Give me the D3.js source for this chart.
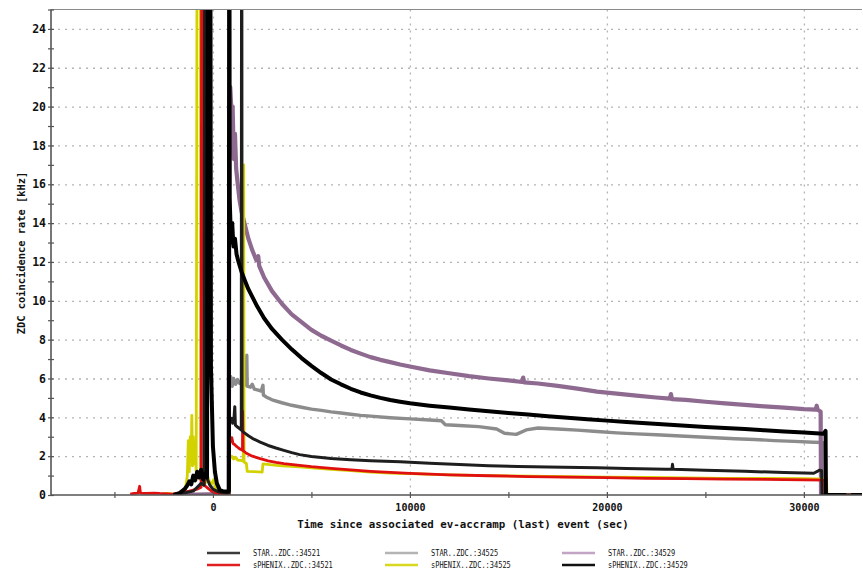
<!DOCTYPE html>
<html>
<head>
<meta charset="utf-8">
<script src="https://cdn.jsdelivr.net/npm/d3@7"></script>
<style>
  body { margin: 0; background: #fff; }
  svg { display: block; }
  text { font-family: "DejaVu Sans Mono", "Liberation Mono", monospace; fill: #111; }
</style>
</head>
<body>
<svg id="chart" width="863" height="584"></svg>
<script>
// ZDC coincidence rates for three fills, time relative to the ev-accramp event (s, kHz)
const seriesNames = [
  "STAR..ZDC.:34521", "sPHENIX..ZDC.:34521",
  "STAR..ZDC.:34525", "sPHENIX..ZDC.:34525",
  "STAR..ZDC.:34529", "sPHENIX..ZDC.:34529"
];
const seriesColors = ["#1e1e1e", "#e01010", "#8c8c8c", "#d2d200", "#8e6a90", "#000000"];
const legendColors = ["#3a3a3a", "#e02020", "#b4b4b4", "#d8d820", "#c4a4c4", "#111111"];

const xTickLabels = [0, 10000, 20000, 30000];
const xMinorTicks = [-5000, 0, 5000, 10000, 15000, 20000, 25000, 30000];
const yTickLabels = [0, 2, 4, 6, 8, 10, 12, 14, 16, 18, 20, 22, 24];
const yMinorTicks = d3.range(0, 26);

const star34521 = [[-2000,0],[-1000,0.2],[-800,0.4],[-600,0.6],[-450,0.5],[-400,45],[-320,45],[-280,0.8],[-150,0.5],[0,0.3],[300,0.15],[700,0.1],[820,0.1],
  [840,4.0],[900,3.85],[960,3.95],[1000,3.7],[1060,3.8],[1110,4.55],[1140,3.6],[1250,3.5],[1380,3.4],[1440,3.35],[1460,45],[1480,3.3],[1600,3.2],[1800,3.05],
  [2000,2.92],[2400,2.72],[2800,2.55],[3200,2.42],[3600,2.3],[4000,2.18],[4400,2.08],[5000,1.98],[6000,1.88],[7000,1.82],[8000,1.77],[9500,1.71],[11000,1.64],
  [12500,1.57],[14000,1.51],[15500,1.47],[17000,1.44],[19500,1.4],[21000,1.37],[23000,1.33],[23300,1.32],[23330,1.58],[23360,1.33],[25000,1.28],[27000,1.22],
  [29000,1.16],[30500,1.12],[30800,1.28],[30900,1.25],[30920,0],[32950,0]];

const sphenix34521 = [[-4200,0.05],[-4000,0.08],[-3800,0.1],[-3720,0.45],[-3680,0.1],[-3400,0.08],[-3000,0.1],[-2700,0.08],[-2000,0.05],[-1200,0.2],[-800,0.3],
  [-600,0.4],[-560,45],[-470,45],[-440,0.5],[-200,0.3],[0,0.15],[400,0.05],[820,0.05],
  [840,3.0],[900,2.75],[960,2.95],[1020,2.65],[1100,2.6],[1200,2.5],[1300,2.42],[1400,2.35],[1500,2.3],[1510,4.3],[1530,2.28],[1700,2.15],[2000,2.0],[2400,1.87],
  [2800,1.76],[3200,1.68],[3600,1.62],[4400,1.53],[5000,1.46],[6000,1.37],[7000,1.29],[8000,1.22],[9000,1.16],[10000,1.11],[12000,1.04],[14000,0.99],[16000,0.95],
  [18000,0.92],[20000,0.89],[22000,0.86],[24000,0.84],[26000,0.82],[28000,0.8],[30000,0.78],[31050,0.77],[31070,0],[32950,0]];

const star34525 = [[-2000,0],[800,0.05],[840,5.9],[900,6.1],[980,5.6],[1050,6.0],[1150,5.7],[1250,5.95],[1350,5.75],[1450,5.85],[1550,5.65],[1700,5.7],[1720,7.2],
  [1740,5.6],[1900,5.55],[2000,5.7],[2100,5.45],[2300,5.4],[2450,5.35],[2540,5.65],[2560,5.15],[2700,5.05],[3000,4.9],[3500,4.75],[4000,4.62],[4500,4.52],[5000,4.42],
  [5500,4.36],[6000,4.28],[6500,4.22],[7000,4.16],[7500,4.1],[8000,4.06],[9000,3.98],[10000,3.92],[11000,3.86],[11600,3.82],[11800,3.62],[12500,3.58],[13500,3.52],
  [14400,3.4],[14800,3.18],[15400,3.12],[15900,3.35],[16500,3.45],[17500,3.4],[18500,3.34],[19500,3.27],[20500,3.2],[21500,3.15],[22500,3.1],[23500,3.05],[24500,3.0],
  [25500,2.95],[26500,2.9],[27500,2.86],[28500,2.8],[29500,2.76],[30500,2.72],[30950,2.7],[30970,0],[32950,0]];

const sphenix34525 = [[-2540,0.05],[-2300,0.08],[-2100,0.05],[-1600,0.1],[-1400,0.3],[-1300,1.0],[-1250,2.8],[-1200,1.2],[-1150,3.0],[-1100,1.8],[-1070,4.1],
  [-1040,1.5],[-1000,3.0],[-950,1.6],[-900,2.4],[-850,1.2],[-780,45],[-650,45],[-620,0.8],[-450,0.5],[-250,0.9],[-100,0.5],[50,0.8],[150,0.3],[400,0.1],[820,0.1],
  [840,1.9],[950,2.0],[1050,1.85],[1150,1.95],[1250,1.8],[1400,1.78],[1540,1.75],[1560,17],[1580,1.7],[1700,1.62],[1740,1.22],[2100,1.2],[2500,1.18],[2540,1.6],
  [3000,1.55],[3500,1.5],[4400,1.45],[5000,1.4],[6000,1.32],[7000,1.25],[8000,1.18],[9000,1.13],[10000,1.1],[12000,1.04],[14000,1.0],[16000,0.97],[18000,0.94],
  [20000,0.92],[22000,0.9],[24000,0.88],[26000,0.86],[28000,0.85],[30000,0.84],[31150,0.82],[31170,0],[32950,0]];

const star34529 = [[-2000,0],[800,0.05],[840,20.2],[880,21.0],[940,19.8],[1000,20.0],[1060,17.3],[1120,18.6],[1180,16.8],[1260,16.0],[1350,15.2],[1450,14.6],
  [1600,14.0],[1800,13.2],[2000,12.6],[2200,12.1],[2300,12.3],[2350,11.8],[2600,11.2],[3000,10.5],[3500,9.85],[4000,9.3],[4500,8.9],[5000,8.5],[5500,8.2],[6000,7.95],
  [6500,7.7],[7000,7.47],[7500,7.28],[8000,7.1],[8500,6.96],[9000,6.84],[9500,6.72],[10000,6.62],[11000,6.42],[12000,6.27],[13000,6.12],[14000,6.0],[15000,5.9],
  [15700,5.82],[15750,6.05],[15800,5.8],[16500,5.74],[17500,5.62],[18500,5.48],[19500,5.32],[20500,5.22],[21500,5.12],[22500,5.02],[23200,4.96],[23250,5.2],
  [23300,4.94],[24000,4.9],[25000,4.8],[26000,4.72],[27000,4.64],[28000,4.56],[29000,4.5],[30000,4.42],[30600,4.4],[30650,4.6],[30700,4.38],[30850,4.3],[30870,0],[32950,0]];

const sphenix34529 = [[-2000,0],[-1700,0.1],[-1500,0.25],[-1400,0.35],[-1300,0.5],[-1200,0.7],[-1100,0.55],[-1000,1.0],[-900,0.75],[-800,1.2],[-700,0.9],[-600,1.3],
  [-500,0.8],[-400,1.1],[-300,0.9],[-230,45],[-150,45],[-100,6.6],[0,2.5],[100,1.2],[200,0.6],[350,0.25],[500,0.2],[700,0.18],[810,0.2],[830,45],[850,15.3],
  [920,13.0],[980,14.0],[1040,12.8],[1120,13.2],[1200,12.4],[1300,12.0],[1450,11.5],[1600,11.1],[1800,10.6],[2000,10.2],[2200,9.8],[2600,9.1],[3000,8.55],[3500,8.0],
  [4000,7.5],[4500,7.05],[5000,6.65],[5500,6.28],[6000,5.95],[6500,5.7],[7000,5.47],[7500,5.28],[8000,5.13],[8500,5.0],[9000,4.89],[9500,4.8],[10000,4.72],[11000,4.6],
  [12000,4.5],[13000,4.4],[14000,4.31],[15000,4.22],[16000,4.14],[17000,4.06],[18000,3.98],[19000,3.9],[20000,3.83],[21000,3.76],[22000,3.7],[23000,3.63],[24000,3.57],
  [25000,3.5],[26000,3.45],[27000,3.4],[28000,3.33],[29000,3.27],[30000,3.22],[31000,3.15],[31100,3.3],[31120,0],[32150,0],[32200,null],[32400,0],[32950,0]];

const seriesData = [star34521, sphenix34521, star34525, sphenix34525, star34529, sphenix34529];
const strokeWidths = [3, 2.8, 3.4, 2.8, 4.2, 4];
const drawOrder = [2, 4, 3, 1, 0, 5];

const svg = d3.select("#chart");
const plot = { left: 51, right: 862, top: 9.5, bottom: 495 };

const x = d3.scaleLinear().domain([-8220, 32950]).range([plot.left, plot.right]);
const y = d3.scaleLinear().domain([0, 25]).range([plot.bottom, plot.top]);

// dotted grid
const gridStyle = g => g.selectAll("line").attr("stroke", "#b4b4b4").attr("stroke-width", 1.3).attr("stroke-dasharray", "2,5");
svg.append("g").attr("transform", `translate(${plot.left},0)`)
  .call(d3.axisLeft(y).tickValues(yTickLabels.filter(v => v > 0)).tickSize(-(plot.right - plot.left)).tickFormat(""))
  .call(g => g.select(".domain").remove()).call(gridStyle);
svg.append("g").attr("transform", `translate(0,${plot.top})`)
  .call(d3.axisBottom(x).tickValues(xTickLabels).tickSize(plot.bottom - plot.top).tickFormat(""))
  .call(g => g.select(".domain").remove()).call(gridStyle);

// curves
svg.append("defs").append("clipPath").attr("id", "plotClip")
  .append("rect").attr("x", plot.left).attr("y", plot.top)
  .attr("width", plot.right - plot.left).attr("height", plot.bottom - plot.top);

const line = d3.line().defined(d => d[1] !== null).x(d => x(d[0])).y(d => y(d[1]));
const curves = svg.append("g").attr("clip-path", "url(#plotClip)");
drawOrder.forEach(i => {
  curves.append("path").datum(seriesData[i])
    .attr("fill", "none").attr("stroke", seriesColors[i])
    .attr("stroke-width", strokeWidths[i]).attr("stroke-linejoin", "round")
    .attr("d", line);
});

// frame
svg.append("line").attr("x1", plot.left).attr("x2", plot.right).attr("y1", plot.top).attr("y2", plot.top)
  .attr("stroke", "#8a8a8a").attr("stroke-width", 1.2);
const tickStyle = g => { g.select(".domain").remove(); g.selectAll("line").attr("stroke", "#555").attr("stroke-width", 1.2); };

// y axis: labels, minor ticks crossing the axis line
svg.append("g").attr("transform", `translate(${plot.left},0)`)
  .call(d3.axisLeft(y).tickValues(yMinorTicks).tickSize(3).tickFormat("")).call(tickStyle);
svg.append("g").attr("transform", `translate(${plot.left},0)`)
  .call(d3.axisRight(y).tickValues(yMinorTicks).tickSize(3).tickFormat("")).call(tickStyle);
const yAxis = svg.append("g").attr("transform", `translate(${plot.left},0)`)
  .call(d3.axisLeft(y).tickValues(yTickLabels).tickSize(0).tickPadding(5));
yAxis.select(".domain").remove();
yAxis.selectAll("text").attr("font-size", 11.5).attr("font-weight", "bold")
  .style("font-family", '"DejaVu Sans Mono", monospace').attr("fill", "#222");

svg.append("line").attr("x1", plot.left).attr("x2", plot.left).attr("y1", plot.top).attr("y2", plot.bottom)
  .attr("stroke", "#555").attr("stroke-width", 1.6);

// x axis
svg.append("g").attr("transform", `translate(0,${plot.bottom})`)
  .call(d3.axisBottom(x).tickValues(xMinorTicks).tickSize(3).tickFormat("")).call(tickStyle);
svg.append("g").attr("transform", `translate(0,${plot.bottom})`)
  .call(d3.axisTop(x).tickValues(xMinorTicks).tickSize(3).tickFormat("")).call(tickStyle);
const xAxis = svg.append("g").attr("transform", `translate(0,${plot.bottom})`)
  .call(d3.axisBottom(x).tickValues(xTickLabels).tickSize(0).tickPadding(9).tickFormat(d3.format("d")));
xAxis.select(".domain").remove();
xAxis.selectAll("text").attr("font-size", 10).attr("font-weight", "bold")
  .style("font-family", '"DejaVu Sans Mono", monospace').attr("fill", "#222");

svg.append("line").attr("x1", plot.left).attr("x2", plot.right).attr("y1", plot.bottom).attr("y2", plot.bottom)
  .attr("stroke", "#555").attr("stroke-width", 1.6);

// axis titles
svg.append("text").attr("x", 463).attr("y", 528).attr("text-anchor", "middle")
  .attr("font-size", 10.8).attr("font-weight", "bold")
  .text("Time since associated ev-accramp (last) event (sec)");
svg.append("text").attr("transform", "translate(25,253) rotate(-90)").attr("text-anchor", "middle")
  .attr("font-size", 10.4).attr("font-weight", "bold")
  .text("ZDC coincidence rate [kHz]");

// legend: STAR in the first row, sPHENIX in the second
const legendCols = [207, 385, 562];
const legendRows = [553, 565];
const legend = svg.append("g");
seriesNames.forEach((name, i) => {
  const col = Math.floor(i / 2), row = i % 2;
  const lx = legendCols[col], ly = legendRows[row];
  legend.append("line").attr("x1", lx).attr("x2", lx + 33).attr("y1", ly).attr("y2", ly)
    .attr("stroke", legendColors[i]).attr("stroke-width", 2.4);
  legend.append("text").attr("x", lx + 46).attr("y", ly + 3).attr("font-size", 8.5)
    .attr("textLength", name.length * 4.2).attr("lengthAdjust", "spacingAndGlyphs")
    .attr("fill", "#333").text(name);
});
</script>
</body>
</html>
